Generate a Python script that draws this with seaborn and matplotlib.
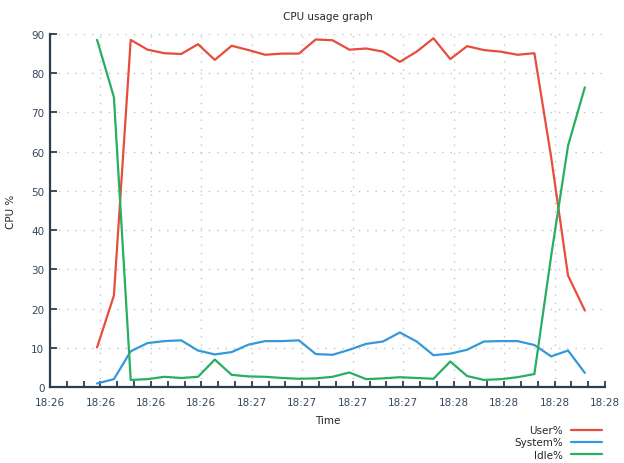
import pandas as pd
import numpy as np
import matplotlib
matplotlib.use('Agg')
import matplotlib.pyplot as plt
import matplotlib.dates as mdates
import seaborn as sns

# =============================================
# values (one sample every 5 s)

times = pd.date_range('2024-01-01 18:26:14', periods=30, freq='5s')

user_pct = [10.1, 23.3, 88.5, 86.0, 85.1, 84.9, 87.4, 83.4, 87.0, 85.9,
            84.7, 85.0, 85.0, 88.6, 88.4, 86.0, 86.3, 85.5, 82.9, 85.5,
            88.9, 83.6, 86.9, 85.9, 85.5, 84.7, 85.1, 58.5, 28.4, 19.5]

system_pct = [0.9, 2.0, 9.1, 11.2, 11.7, 11.9, 9.3, 8.3, 8.9, 10.8,
              11.7, 11.7, 11.9, 8.4, 8.2, 9.5, 11.0, 11.6, 13.9, 11.6,
              8.1, 8.5, 9.5, 11.6, 11.7, 11.7, 10.7, 7.8, 9.3, 3.6]

idle_pct = [88.5, 73.9, 1.8, 2.0, 2.6, 2.3, 2.6, 7.0, 3.1, 2.7,
            2.6, 2.3, 2.1, 2.2, 2.6, 3.7, 2.0, 2.2, 2.5, 2.3,
            2.1, 6.5, 2.8, 1.8, 2.0, 2.5, 3.3, 33.5, 61.5, 76.4]

series_names = ['User%', 'System%', 'Idle%']
series_colors = ['#e74c3c', '#3498db', '#27ae60']

data = pd.DataFrame({'Time': times, 'User%': user_pct,
                     'System%': system_pct, 'Idle%': idle_pct})
long_data = data.melt(id_vars='Time', var_name='Series', value_name='CPU %')

# =============================================

sns.set_style('white')
plt.rcParams['font.family'] = ['DejaVu Sans']

axis_color = '#2c3e50'
label_color = '#34495e'

fig = plt.figure(figsize=(6.24, 4.64), dpi=100)
ax = fig.add_axes([0.0801, 0.1638, 0.8895, 0.7608])

sns.lineplot(data=long_data, x='Time', y='CPU %', hue='Series',
             hue_order=series_names, palette=series_colors,
             linewidth=1.6, ax=ax, legend=False)

ax.set_xlim(pd.Timestamp('2024-01-01 18:26:00'), pd.Timestamp('2024-01-01 18:28:45'))
ax.set_ylim(0, 90)
ax.set_yticks(np.arange(0, 91, 10))

ax.xaxis.set_major_locator(mdates.SecondLocator(bysecond=[0, 15, 30, 45]))
ax.xaxis.set_minor_locator(mdates.SecondLocator(bysecond=[5, 10, 20, 25, 35, 40, 50, 55]))
ax.xaxis.set_major_formatter(mdates.DateFormatter('%H:%M'))

# dotted grid at the major ticks
ax.grid(which='major', linestyle=(0, (1, 5)), color='#c4c4c4', linewidth=1)

for side in ['top', 'right']:
    ax.spines[side].set_visible(False)
for side in ['left', 'bottom']:
    ax.spines[side].set_color(axis_color)
    ax.spines[side].set_linewidth(1.6)

# seaborn white style hides the ticks, switch them back on
ax.tick_params(which='both', bottom=True, left=True, top=False, right=False)
ax.tick_params(axis='y', direction='in', length=5, width=1.3, color=axis_color,
               labelsize=7.5, labelcolor=label_color, pad=4)
ax.tick_params(axis='x', which='major', direction='in', length=4, width=1.3,
               color=axis_color, labelsize=7.5, labelcolor=label_color, pad=7)
ax.tick_params(axis='x', which='minor', direction='in', length=4, width=1.3,
               color=axis_color)

ax.set_title('CPU usage graph', fontsize=7.5, pad=11)
ax.set_xlabel('Time', fontsize=7.5, labelpad=6)
ax.set_ylabel('CPU %', fontsize=7.5, labelpad=11)

handles = [plt.Line2D([], [], color=c, linewidth=1.6) for c in series_colors]
fig.legend(handles, series_names, loc='upper right', bbox_to_anchor=(0.972, 0.09),
           frameon=False, markerfirst=False, fontsize=7.5, handlelength=3.0,
           labelspacing=0.2, handletextpad=0.8, borderaxespad=0)

fig.savefig('out.png', dpi=100)
